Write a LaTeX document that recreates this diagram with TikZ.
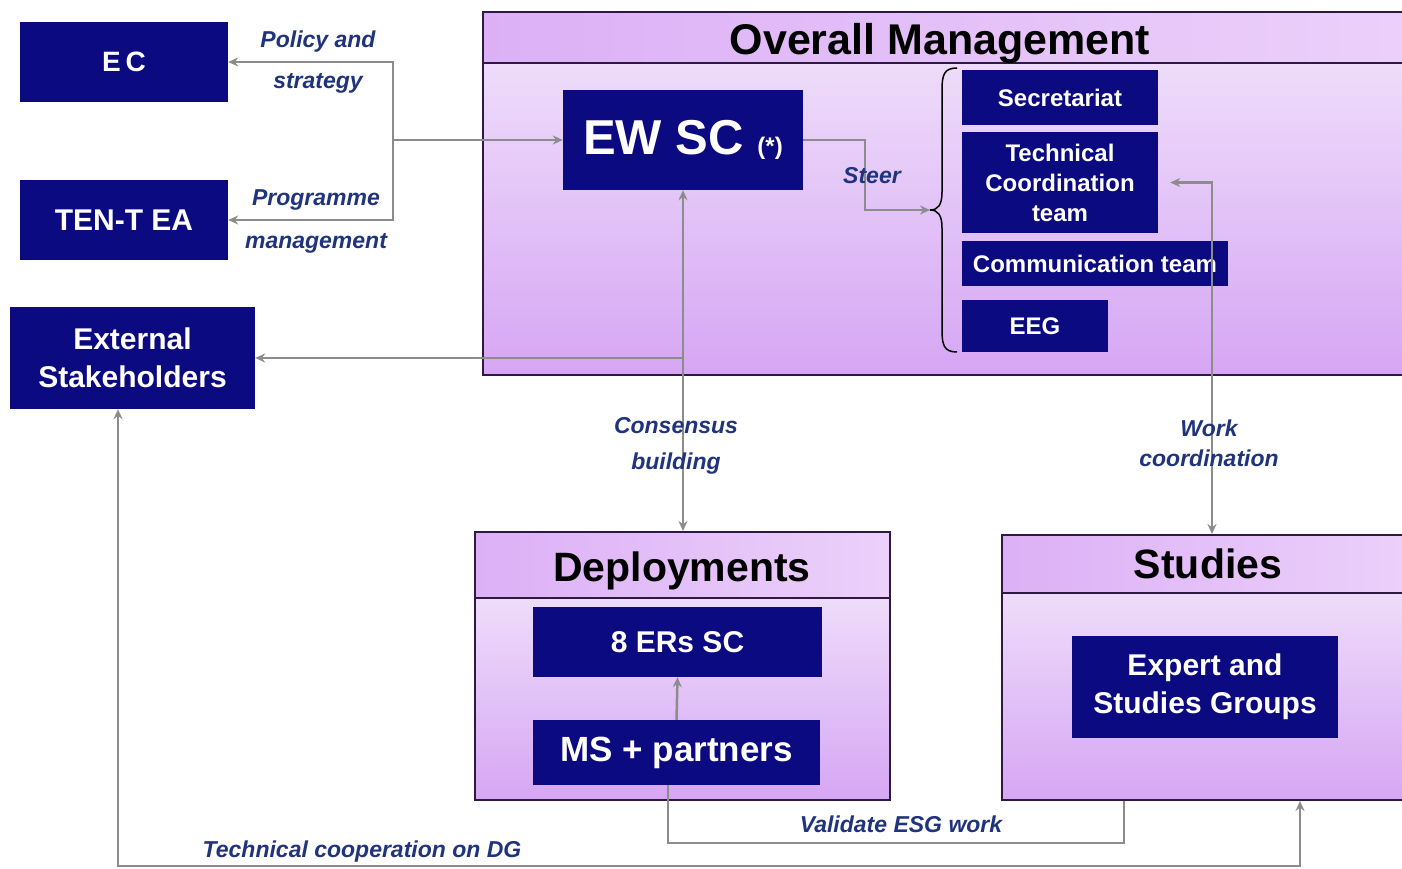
\documentclass[tikz,border=0pt]{standalone}
\usepackage{fontspec}
\setmainfont{Liberation Sans}
\usetikzlibrary{arrows.meta}
\definecolor{boxblue}{RGB}{12,10,128}
\definecolor{labblue}{RGB}{32,52,125}
\definecolor{conngray}{RGB}{140,140,140}
\definecolor{frameC}{RGB}{45,25,65}
\definecolor{hdrL}{RGB}{220,176,246}
\definecolor{hdrR}{RGB}{236,208,250}
\definecolor{bodyT}{RGB}{238,220,250}
\definecolor{bodyM}{RGB}{250,245,253}
\definecolor{bodyB}{RGB}{214,166,244}
\newcommand\myfs[2]{\fontsize{#1}{#2}\selectfont}
\begin{document}
\begin{tikzpicture}[x=1pt,y=-1pt,
  nb/.style={fill=boxblue, text=white, inner sep=0pt, align=center, font=\bfseries},
  conn/.style={draw=conngray, line width=2.5pt},
  tip/.style={-{Stealth[length=10pt,width=9pt]}},
  lab/.style={text=labblue, align=center, inner sep=0pt},
  frame/.style={draw=frameC, line width=2pt, inner sep=0pt},
  ttl/.style={font=\bfseries\myfs{43}{50}, text=black, inner sep=0pt, anchor=base}
]
\useasboundingbox (0,0) rectangle (1402,869);
\clip (0,0) rectangle (1402,869);
\fill[white] (0,0) rectangle (1402,869);

% ---- big group boxes ----
\shade[left color=hdrL, right color=hdrR] (483,12) rectangle (1410,63);
\shade[top color=bodyT, middle color=bodyM, bottom color=bodyB] (483,63) rectangle (1410,375);
\node[frame, minimum width=927pt, minimum height=363pt] (om) at (946.5,193.5) {};
\draw[frame] (483,63) -- (1410,63);

\shade[left color=hdrL, right color=hdrR] (475,532) rectangle (890,598);
\shade[top color=bodyT, middle color=bodyM, bottom color=bodyB] (475,598) rectangle (890,800);
\node[frame, minimum width=415pt, minimum height=268pt] (dep) at (682.5,666) {};
\draw[frame] (475,598) -- (890,598);

\shade[left color=hdrL, right color=hdrR] (1002,535) rectangle (1410,593);
\shade[top color=bodyT, middle color=bodyM, bottom color=bodyB] (1002,593) rectangle (1410,800);
\node[frame, minimum width=408pt, minimum height=265pt] (stu) at (1206,667.5) {};
\draw[frame] (1002,593) -- (1410,593);

\node[ttl] (omt) at (940,55) {Overall Management};
\node[ttl, font=\bfseries\myfs{41}{48}] (dept) at (682,581) {Deployments};
\node[ttl, font=\bfseries\myfs{41}{48}] (stut) at (1208,578) {Studies};

% ---- dark boxes ----
\node[nb, minimum width=208pt, minimum height=80pt, font=\bfseries\myfs{28}{34}] (ec) at (124,62) {E\,C};
\node[nb, minimum width=208pt, minimum height=80pt, font=\bfseries\myfs{30}{36}] (tent) at (124,220) {TEN-T EA};
\node[nb, minimum width=245pt, minimum height=102pt, font=\bfseries\myfs{30}{38}] (ext) at (132.5,358) {External\\Stakeholders};
\node[nb, minimum width=240pt, minimum height=100pt, font=\bfseries\myfs{49}{55}] (ewsc) at (683,140) {EW SC {\myfs{24}{28}(*)}};
\node[nb, minimum width=196pt, minimum height=55pt, font=\bfseries\myfs{24}{30}] (sec) at (1060,97.5) {Secretariat};
\node[nb, minimum width=196pt, minimum height=101pt, font=\bfseries\myfs{24}{30}] (tct) at (1060,182.5) {Technical\\Coordination\\team};
\node[nb, minimum width=266pt, minimum height=45pt, font=\bfseries\myfs{24}{30}] (com) at (1095,263.5) {Communication team};
\node[nb, minimum width=146pt, minimum height=52pt, font=\bfseries\myfs{24}{30}] (eeg) at (1035,326) {EEG};
\node[nb, minimum width=289pt, minimum height=70pt, font=\bfseries\myfs{30}{36}] (ers) at (677.5,642) {8 ERs SC};
\node[nb, minimum width=287pt, minimum height=65pt, font=\bfseries\myfs{35}{40}] (ms) at (676.5,752.5) {MS + partners};
\node[nb, minimum width=266pt, minimum height=102pt, font=\bfseries\myfs{30}{38}] (esg) at (1205,687) {Expert and\\Studies Groups};

% ---- brace ----
\coordinate (brtip) at (930,210);
\draw[line width=1.5pt] (957,68) .. controls (944,68) and (942,75) .. (942,90) -- (942,192)
  .. controls (942,205) and (938,210) .. (brtip)
  .. controls (938,210) and (942,215) .. (942,228) -- (942,330)
  .. controls (942,345) and (944,352) .. (957,352);

% ---- connectors ----
\coordinate (jl) at (393,140);
\draw[conn, tip] (jl) -- (ewsc.west);
\draw[conn, tip] (jl) |- (ec.east);
\draw[conn, tip] (jl) |- (tent.east);
\draw[conn, tip] (ewsc.east) -- ++(62,0) |- (brtip);
\draw[conn, {Stealth[length=10pt,width=9pt]}-{Stealth[length=10pt,width=9pt]}] (ewsc.south) -- (ewsc.south |- dep.north);
\draw[conn, tip] (ewsc.south |- ext.east) -- (ext.east);
\coordinate (wcx) at (1212,0);
\draw[conn, {Stealth[length=10pt,width=9pt]}-{Stealth[length=10pt,width=9pt]}] ([xshift=12pt]tct.east) -| (wcx |- stu.north);
\draw[conn, tip] (ms.north) -- (ers.south);
\coordinate (tcx) at (118,0);
\coordinate (tsx) at (1300,0);
\draw[conn, {Stealth[length=10pt,width=9pt]}-{Stealth[length=10pt,width=9pt]}] (tcx |- ext.south) -- (118,866) -| (tsx |- stu.south);
\coordinate (vmx) at (668,0);
\coordinate (vsx) at (1124,0);
\draw[conn] (vmx |- ms.south) -- (668,843) -| (vsx |- stu.south);

% ---- labels ----
\node[lab, font=\bfseries\itshape\myfs{23}{41}] (lpol) at (318,62) {Policy and\\strategy};
\node[lab, font=\bfseries\itshape\myfs{23}{43}] (lprog) at (316,221) {Programme\\management};
\node[lab, font=\bfseries\itshape\myfs{23}{30}] (lsteer) at (872,176) {Steer};
\node[lab, font=\bfseries\itshape\myfs{23}{36}] (lcons) at (676,446) {Consensus\\building};
\node[lab, font=\bfseries\itshape\myfs{23}{30}] (lwork) at (1209,443) {Work\\coordination};
\node[lab, font=\bfseries\itshape\myfs{23}{30}] (ltech) at (362,852) {Technical cooperation on DG};
\node[lab, font=\bfseries\itshape\myfs{23}{30}] (lval) at (901,824) {Validate ESG work};
\end{tikzpicture}
\end{document}
